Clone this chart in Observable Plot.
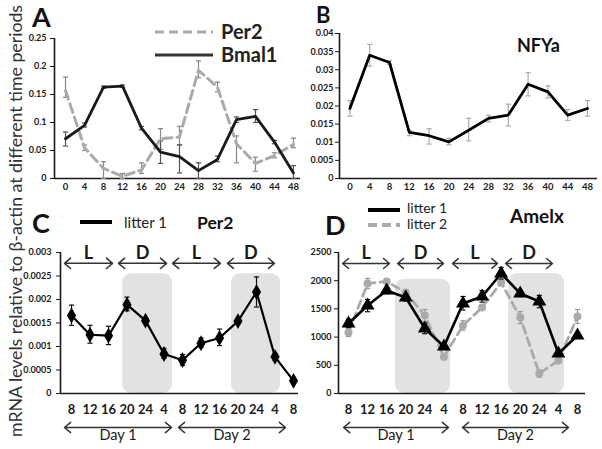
<!DOCTYPE html>
<html><head><meta charset="utf-8">
<script src="https://cdn.jsdelivr.net/npm/d3@7"></script>
<script src="https://cdn.jsdelivr.net/npm/@observablehq/plot@0.6"></script>
<style>
html,body{margin:0;padding:0;background:#fff}
#wrap{position:relative;width:602px;height:449px;overflow:hidden;font-family:Lato,sans-serif}
.panel{position:absolute}
.panel svg{overflow:visible;display:block}
.panel [aria-label^="y-axis"] text{font-size:9px;font-weight:700}
.pA [aria-label^="x-axis"] text,.pB [aria-label^="x-axis"] text{font-size:9.5px;font-weight:700}
.pC [aria-label^="x-axis"] text,.pD [aria-label^="x-axis"] text{font-size:13px;font-weight:700}
#over{position:absolute;left:0;top:0;pointer-events:none}
</style></head><body><div id="wrap"></div>
<script>
// ---------- data ----------
const hoursAB = ["0","4","8","12","16","20","24","28","32","36","40","44","48"];
const bmal1   = [0.071,0.095,0.163,0.165,0.090,0.047,0.039,0.014,0.034,0.105,0.111,0.065,0.010];
const bmal1Lo = [0.058,0.092,0.161,0.163,0.087,0.027,0.010,0.000,0.030,0.100,0.100,0.062,0.000];
const bmal1Hi = [0.083,0.099,0.165,0.167,0.093,0.067,0.060,0.028,0.040,0.110,0.123,0.068,0.023];
const per2A   = [0.157,0.055,0.018,0.004,0.015,0.071,0.074,0.193,0.163,0.062,0.027,0.041,0.061];
const per2ALo = [0.145,0.050,0.000,0.000,0.009,0.052,0.060,0.180,0.155,0.028,0.013,0.037,0.055];
const per2AHi = [0.181,0.060,0.030,0.009,0.028,0.089,0.093,0.210,0.172,0.076,0.038,0.046,0.072];

const nfya   = [0.0193,0.0340,0.0320,0.0127,0.0118,0.0101,0.0133,0.0166,0.0175,0.0260,0.0239,0.0175,0.0193];
const nfyaLo = [0.0172,0.0310,0.0315,0.0118,0.0095,0.0093,0.0104,0.0156,0.0145,0.0228,0.0222,0.0160,0.0172];
const nfyaHi = [0.0215,0.0370,0.0325,0.0133,0.0137,0.0111,0.0166,0.0174,0.0205,0.0292,0.0255,0.0190,0.0215];

const clockCD = ["8","12","16","20","24","4","8","12","16","20","24","4","8"];
const per2C   = [0.00166,0.00125,0.00123,0.00189,0.00155,0.00084,0.00071,0.00107,0.00118,0.00154,0.00216,0.00078,0.00027];
const per2CLo = [0.00145,0.00107,0.00104,0.00176,0.00150,0.00075,0.00060,0.00098,0.00102,0.00150,0.00184,0.00070,0.00025];
const per2CHi = [0.00188,0.00145,0.00143,0.00205,0.00160,0.00096,0.00083,0.00118,0.00137,0.00158,0.00248,0.00085,0.00030];

const amelx1   = [1241,1560,1826,1702,1152,833,1596,1720,2128,1773,1631,709,1028];
const amelx1Lo = [1170,1450,1770,1640,1060,790,1480,1620,2030,1720,1520,660,980];
const amelx1Hi = [1320,1667,1880,1760,1250,880,1720,1826,2234,1820,1738,760,1080];
const amelx2   = [1082,1950,1986,1791,1383,650,1206,1525,1968,1348,355,585,1365];
const amelx2Lo = [1010,1860,1940,1750,1280,600,1120,1480,1920,1240,290,530,1240];
const amelx2Hi = [1150,2040,2030,1826,1489,700,1294,1570,2010,1454,420,640,1489];

const yTicksA = [0,0.05,0.1,0.15,0.2,0.25];
const yTicksB = [0,0.005,0.01,0.015,0.02,0.025,0.03,0.035,0.04];
const yTicksC = [0,0.0005,0.001,0.0015,0.002,0.0025,0.003];
const yTicksD = [0,500,1000,1500,2000,2500];

const phaseLabels = ["L","D","L","D"];
const phaseFromC = [-0.38,2.54,5.46,8.43], phaseToC = [2.22,5.14,8.05,10.97];
const phaseFromD = [-0.31,2.57,5.45,8.23], phaseToD = [2.15,4.98,7.81,10.69];
const darkFromC = [2.76,8.65], darkToC = [5.46,11.3], darkTopC = [0.00255,0.00255];
const darkFromD = [2.46,8.39], darkToD = [5.35,11.32], darkTopD = [2025,2126];
const dayLabels = ["Day 1","Day 2"];
const dayFromC = [-0.38,5.78], dayToC = [5.41,11.57];
const dayFromD = [-0.26,5.97], dayToD = [5.24,11.53];

// ---------- helpers ----------
const capSym = {draw(ctx, size){ const r = Math.sqrt(size/Math.PI); ctx.moveTo(-r,0); ctx.lineTo(r,0); }};
function rows(n, cols){ return d3.range(n).map(i => { const o = {i}; for (const k in cols) o[k] = cols[k][i]; return o; }); }
function errMarks(data, lo, hi, color, w){
  return [
    Plot.ruleX(data, {x:"i", y1:lo, y2:hi, stroke:color, strokeWidth:w}),
    Plot.dot(data, {x:"i", y:lo, symbol:capSym, r:2.6, stroke:color, strokeWidth:w, fill:"none"}),
    Plot.dot(data, {x:"i", y:hi, symbol:capSym, r:2.6, stroke:color, strokeWidth:w, fill:"none"})
  ];
}
function dblArrows(from, to, yv, labels, yText, fs, weight){
  const d = from.map((f,k) => ({f, t:to[k], m:(f+to[k])/2, label:labels[k]}));
  const opts = {y1:yv, y2:yv, stroke:"#333", strokeWidth:1.5, headLength:8, headAngle:80};
  return [
    Plot.arrow(d, {x1:"m", x2:"t", ...opts}),
    Plot.arrow(d, {x1:"m", x2:"f", ...opts}),
    Plot.text(d, {x:"m", y:yText, text:"label", fontSize:fs, fontWeight:weight, fill:"#1a1a1a", fontFamily:"Lato"})
  ];
}
function makePanel(o){
  return Plot.plot({
    width:o.w, height:o.h, marginLeft:o.ml, marginRight:o.mr, marginTop:o.mt, marginBottom:o.mb,
    style:{background:"transparent", color:"#1a1a1a", fontFamily:"Lato, sans-serif", overflow:"visible"},
    x:{type:"linear", domain:o.xd, ticks:d3.range(o.labels.length), tickFormat:i => o.labels[i], tickSize:0, tickPadding:o.xpad, label:null},
    y:{type:"linear", domain:o.yd, ticks:o.yticks, tickFormat:d => String(+d.toFixed(4)), tickSize:4, tickPadding:o.ypad, label:null},
    marks:[...(o.under||[]), Plot.ruleY([o.yd[0]], {strokeWidth:1.6}), Plot.ruleX([o.xd[0]], {strokeWidth:1.6}), ...o.marks]
  });
}
const wrap = document.getElementById("wrap");
function place(node, cls, left, top){
  const div = document.createElement("div");
  div.className = "panel " + cls; div.style.left = left+"px"; div.style.top = top+"px";
  div.appendChild(node); wrap.appendChild(div);
}

// ---------- Panel A ----------
const dA = rows(13, {b:bmal1, bLo:bmal1Lo, bHi:bmal1Hi, p:per2A, pLo:per2ALo, pHi:per2AHi});
place(makePanel({w:301,h:200,ml:54,mr:1,mt:38,mb:22, xd:[-0.58,12.37], yd:[0,0.25], labels:hoursAB, yticks:yTicksA, xpad:5, ypad:4,
  marks:[
    ...errMarks(dA,"pLo","pHi","#888",1.2),
    ...errMarks(dA,"bLo","bHi","#555",1.2),
    Plot.line(dA, {x:"i", y:"p", stroke:"#aaa", strokeWidth:3, strokeDasharray:"9,5"}),
    Plot.line(dA, {x:"i", y:"b", stroke:"#1a1a1a", strokeWidth:2.8})
  ]}), "pA", 0, 0);

// ---------- Panel B ----------
const dB = rows(13, {v:nfya, lo:nfyaLo, hi:nfyaHi});
place(makePanel({w:302,h:200,ml:39,mr:5,mt:33,mb:22, xd:[-0.525,12.505], yd:[0,0.04], labels:hoursAB, yticks:yTicksB, xpad:5, ypad:2,
  marks:[
    ...errMarks(dB,"lo","hi","#aaa",1.2),
    Plot.line(dB, {x:"i", y:"v", stroke:"#000", strokeWidth:2.8})
  ]}), "pB", 300, 0);

// ---------- Panel C ----------
const dC = rows(13, {v:per2C, lo:per2CLo, hi:per2CHi});
const darkC = darkFromC.map((f,k) => ({f, t:darkToC[k], top:darkTopC[k]}));
place(makePanel({w:301,h:249,ml:60,mr:3,mt:52,mb:56, xd:[-0.595,12.27], yd:[0,0.003], labels:clockCD, yticks:yTicksC, xpad:11, ypad:5,
  under:[Plot.rect(darkC, {x1:"f", x2:"t", y1:0, y2:"top", fill:"#e2e2e2", rx:9})],
  marks:[
    ...errMarks(dC,"lo","hi","#111",1.2),
    Plot.line(dC, {x:"i", y:"v", stroke:"#000", strokeWidth:2.2}),
    Plot.dot(dC, {x:"i", y:"v", symbol:"diamond", r:4.8, fill:"#000"}),
    ...dblArrows(phaseFromC, phaseToC, 0.00277, phaseLabels, 0.00298, 18, "bold"),
    ...dblArrows(dayFromC, dayToC, -0.000723, dayLabels, -0.000894, 14.5, "normal")
  ]}), "pC", 0, 200);

// ---------- Panel D ----------
const dD = rows(13, {a:amelx1, aLo:amelx1Lo, aHi:amelx1Hi, b:amelx2, bLo:amelx2Lo, bHi:amelx2Hi});
const darkD = darkFromD.map((f,k) => ({f, t:darkToD[k], top:darkTopD[k]}));
place(makePanel({w:302,h:249,ml:38,mr:17,mt:52,mb:56, xd:[-0.524,12.42], yd:[0,2500], labels:clockCD, yticks:yTicksD, xpad:11, ypad:3,
  under:[Plot.rect(darkD, {x1:"f", x2:"t", y1:0, y2:"top", fill:"#e2e2e2", rx:9})],
  marks:[
    ...errMarks(dD,"bLo","bHi","#999",1.2),
    Plot.line(dD, {x:"i", y:"b", stroke:"#aaa", strokeWidth:2.8, strokeDasharray:"8,5"}),
    Plot.dot(dD, {x:"i", y:"b", symbol:"circle", r:4, fill:"#aaa"}),
    ...errMarks(dD,"aLo","aHi","#111",1.2),
    Plot.line(dD, {x:"i", y:"a", stroke:"#000", strokeWidth:2.6}),
    Plot.dot(dD, {x:"i", y:"a", symbol:"triangle", r:5.2, fill:"#000"}),
    ...dblArrows(phaseFromD, phaseToD, 2305, phaseLabels, 2482, 18, "bold"),
    ...dblArrows(dayFromD, dayToD, -603, dayLabels, -745, 14.5, "normal")
  ]}), "pD", 300, 200);

// ---------- labels, legends, titles ----------
const over = document.createElementNS("http://www.w3.org/2000/svg","svg");
over.setAttribute("id","over"); over.setAttribute("width",602); over.setAttribute("height",449);
over.innerHTML = `
<g font-family="Lato, sans-serif">
<text transform="translate(15,221) rotate(-90)" text-anchor="middle" dominant-baseline="central" font-size="17" fill="#333" textLength="432" lengthAdjust="spacingAndGlyphs">mRNA levels relative to β-actin at different time periods</text>
<g font-size="27" font-weight="bold" fill="#111">
<text x="32" y="27">A</text><text x="32" y="233">C</text><text x="325" y="235">D</text>
</g>
<text x="316" y="22.5" font-size="22" font-weight="bold" fill="#111">B</text>
<line x1="155" x2="213" y1="32" y2="32" stroke="#aaa" stroke-width="3" stroke-dasharray="9,5"/>
<line x1="155" x2="213" y1="55" y2="55" stroke="#333" stroke-width="3"/>
<g font-size="20" font-weight="bold" fill="#222"><text x="221" y="39">Per2</text><text x="221" y="62">Bmal1</text></g>
<text x="517" y="52" font-size="18" font-weight="bold" fill="#111">NFYa</text>
<line x1="80" x2="112" y1="222" y2="222" stroke="#000" stroke-width="4"/>
<text x="124" y="228" font-size="15" fill="#222">litter 1</text>
<text x="197" y="229" font-size="17.5" font-weight="bold" fill="#111">Per2</text>
<line x1="368" x2="400" y1="210" y2="210" stroke="#000" stroke-width="4"/>
<line x1="368" x2="400" y1="225" y2="225" stroke="#aaa" stroke-width="4" stroke-dasharray="9,5"/>
<text x="407" y="213" font-size="14" fill="#222">litter 1</text>
<text x="407" y="229" font-size="14" fill="#222">litter 2</text>
<text x="510" y="223" font-size="19" font-weight="bold" fill="#111">Amelx</text>
</g>`;
wrap.appendChild(over);
</script>
</body></html>
